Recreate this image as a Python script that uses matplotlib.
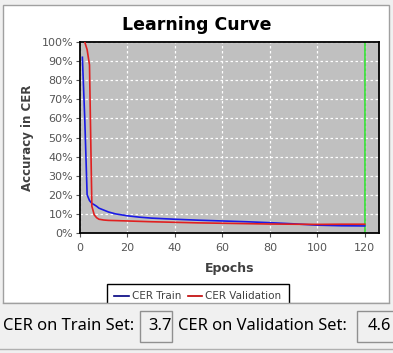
import matplotlib
matplotlib.use("Agg")
import matplotlib.pyplot as plt
from matplotlib.patches import Rectangle
from matplotlib.ticker import PercentFormatter

# data
epochs = [1, 2, 3, 4, 5, 6, 7, 8, 10, 12, 15, 20, 25, 30, 40, 50, 60, 70, 80, 90, 100, 110, 120]
cer_train = [0.92, 0.60, 0.20, 0.17, 0.155, 0.148, 0.14, 0.13, 0.12, 0.11, 0.10, 0.09, 0.083, 0.078,
             0.072, 0.067, 0.063, 0.059, 0.054, 0.048, 0.041, 0.038, 0.037]
cer_val = [1.08, 1.00, 0.96, 0.88, 0.14, 0.095, 0.08, 0.072, 0.068, 0.066, 0.065, 0.063, 0.061, 0.059,
           0.056, 0.053, 0.051, 0.049, 0.047, 0.046, 0.045, 0.046, 0.046]
best_epoch = 120
x_ticks = [0, 20, 40, 60, 80, 100, 120]
train_result = "3.7"
val_result = "4.6"

W, H = 393, 353


def fx(x):
    return x / W


def fy(y):
    return 1 - y / H


fig = plt.figure(figsize=(W / 100, H / 100), dpi=100)
fig.patch.set_facecolor("#f0f0f0")

# white chart panel
fig.patches.append(Rectangle((fx(3), fy(303)), fx(389) - fx(3), fy(5) - fy(303),
                             transform=fig.transFigure, facecolor="white",
                             edgecolor="#a0a0a0", lw=1, zorder=-1))

ax = fig.add_axes([fx(80), fy(233), fx(379) - fx(80), fy(42) - fy(233)])
ax.set_zorder(3)
ax.set_facecolor("#c0c0c0")

ax.plot(epochs, cer_train, color="#1a1ae6", lw=1.2, label="CER Train", zorder=3)
ax.plot(epochs, cer_val, color="#e02020", lw=1.2, label="CER Validation", zorder=3)
ax.axvline(best_epoch, color="#33e033", lw=1.2, zorder=2)

ax.set_xlim(0, 126)
ax.set_ylim(0, 1)
ax.set_xticks(x_ticks)
ax.set_yticks([i / 10 for i in range(11)])
ax.yaxis.set_major_formatter(PercentFormatter(1.0, decimals=0))
ax.grid(True, color="white", linestyle=(0, (2, 2)), lw=0.9)
ax.set_axisbelow(True)
ax.tick_params(labelsize=8, colors="#555555", length=3, width=0.8, pad=2)
ax.tick_params(axis="x", pad=4)
for s in ax.spines.values():
    s.set_color("black")
    s.set_linewidth(1.3)

ax.set_xlabel("Epochs", fontsize=9, fontweight="bold", color="#404040", labelpad=7)
ax.set_ylabel("Accuracy in CER", fontsize=8.5, fontweight="bold", color="#404040", labelpad=5)

fig.text(0.5, fy(25), "Learning Curve", ha="center", va="center",
         fontsize=12.5, fontweight="bold", color="black")

leg = fig.legend(loc="upper center", bbox_to_anchor=(fx(198), fy(284)), ncol=2,
                 fontsize=7.5, frameon=True, fancybox=False, edgecolor="black",
                 framealpha=1, handlelength=1.4, handletextpad=0.3, columnspacing=0.6,
                 borderpad=0.7, borderaxespad=0, labelcolor="#404040")
leg.get_lines()[0].set_color("#000080")
leg.get_lines()[1].set_color("#c00000")
leg.get_frame().set_linewidth(1.0)
leg.set_zorder(5)

# cover the legend part that falls outside the panel
fig.patches.append(Rectangle((0, 0), 1, fy(303.5), transform=fig.transFigure,
                             facecolor="#f0f0f0", edgecolor="none", zorder=6))
fig.lines.append(plt.Line2D([fx(3), fx(389)], [fy(303), fy(303)], transform=fig.transFigure,
                            color="#a0a0a0", lw=1, zorder=7))
fig.lines.append(plt.Line2D([0, 1], [fy(349), fy(349)], transform=fig.transFigure,
                            color="#b0b0b0", lw=1, zorder=7))

# result row
row_y = fy(326)
fs = 11.9
fig.text(fx(3), row_y, "CER on Train Set:", ha="left", va="center",
         fontsize=fs, family="Noto Sans", color="black", zorder=8)
fig.patches.append(Rectangle((fx(140), fy(342)), fx(172) - fx(140), fy(311) - fy(342),
                             transform=fig.transFigure, facecolor="#f0f0f0",
                             edgecolor="#909090", lw=1, zorder=7))
fig.text(fx(172), row_y, train_result, ha="right", va="center",
         fontsize=fs, family="Noto Sans", color="black", zorder=8)
fig.text(fx(178), row_y, "CER on Validation Set:", ha="left", va="center",
         fontsize=fs, family="Noto Sans", color="black", zorder=8)
fig.patches.append(Rectangle((fx(357), fy(342)), fx(400) - fx(357), fy(311) - fy(342),
                             transform=fig.transFigure, facecolor="#f0f0f0",
                             edgecolor="#909090", lw=1, zorder=7))
fig.text(fx(368), row_y, val_result, ha="left", va="center",
         fontsize=fs, family="Noto Sans", color="black", zorder=8)

fig.savefig("out.png", dpi=100, facecolor=fig.get_facecolor())
